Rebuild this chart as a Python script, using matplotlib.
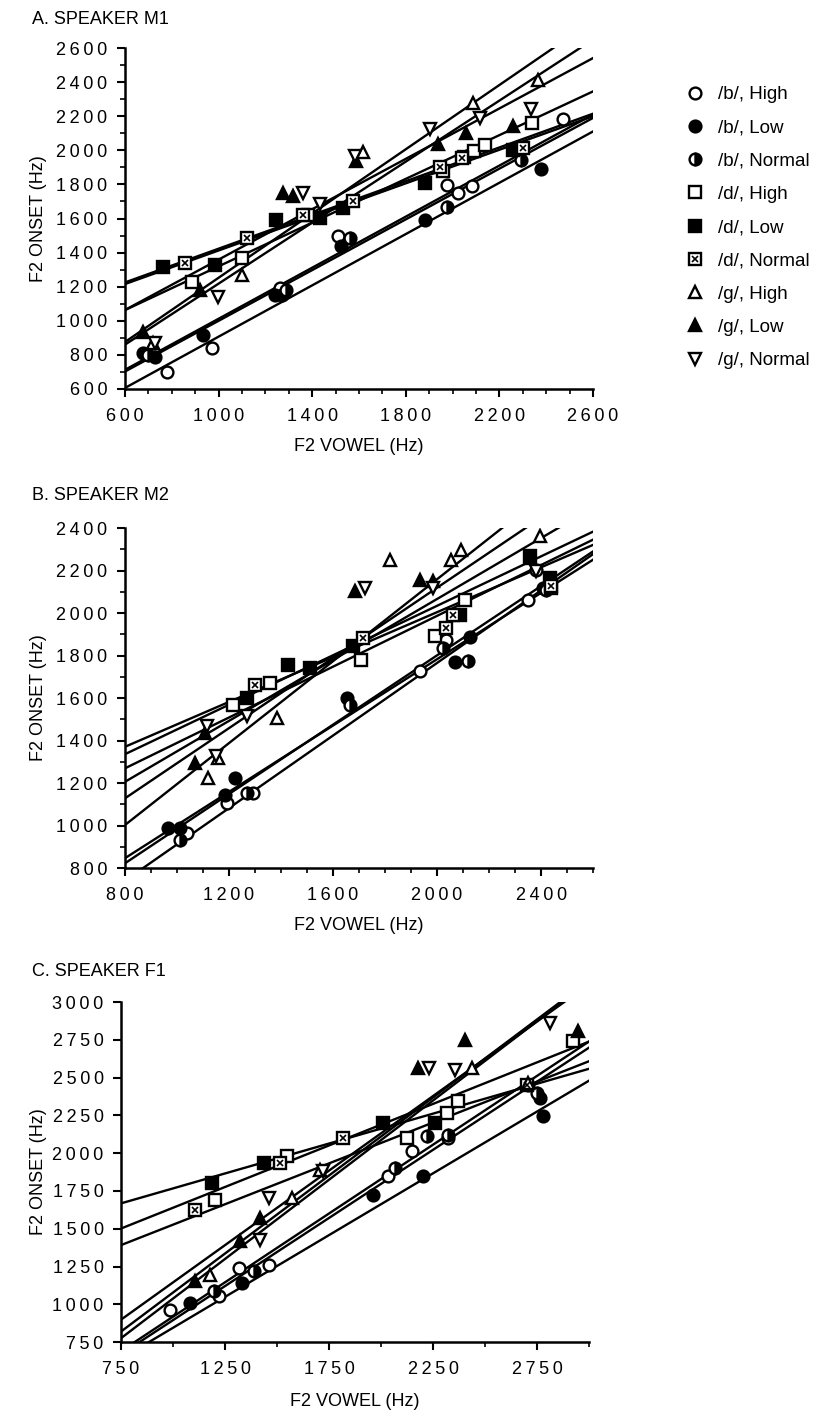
import matplotlib
matplotlib.use("Agg")
import matplotlib.pyplot as plt
import numpy as np
from matplotlib.ticker import FuncFormatter
from matplotlib.legend_handler import HandlerTuple

plt.rcParams['font.family'] = ['Liberation Sans', 'DejaVu Sans']

# category order used everywhere below
cats = ['/b/, High', '/b/, Low', '/b/, Normal',
        '/d/, High', '/d/, Low', '/d/, Normal',
        '/g/, High', '/g/, Low', '/g/, Normal']

# ---- Speaker M1 : (F2 vowel, F2 onset) per category
m1_b_high = ([778, 970, 1262, 1511, 1974, 2024, 2081, 2472], [702, 839, 1191, 1498, 1798, 1749, 1788, 2185])
m1_b_low = ([678, 728, 935, 1240, 1272, 1525, 1881, 2379], [809, 790, 917, 1152, 1152, 1440, 1592, 1890])
m1_b_norm = ([700, 1290, 1561, 1974, 2294], [800, 1180, 1485, 1667, 1944])
m1_d_high = ([885, 1098, 1380, 1960, 2050, 2090, 2140, 2340], [1230, 1370, 1620, 1880, 1960, 1995, 2030, 2160])
m1_d_low = ([764, 984, 1247, 1432, 1532, 1881, 2258], [1318, 1328, 1592, 1602, 1660, 1807, 2003])
m1_d_norm = ([856, 1120, 1361, 1575, 1945, 2038, 2300], [1338, 1485, 1621, 1700, 1905, 1954, 2013])
m1_g_high = ([720, 1100, 1618, 2087, 2365], [868, 1269, 1993, 2277, 2414])
m1_g_low = ([678, 920, 1276, 1318, 1589, 1938, 2059, 2258], [936, 1181, 1752, 1730, 1938, 2036, 2101, 2140])
m1_g_norm = ([728, 999, 1361, 1432, 1582, 1902, 2116, 2336], [868, 1142, 1752, 1683, 1968, 2124, 2190, 2242])
m1_slope = [0.7525, 0.744, 0.749, 0.6415, 0.4925, 0.495, 0.895, 0.9425, 0.739]
m1_icept = [154.5, 256, 263, 678, 920, 928, 323, 310, 620]

# ---- Speaker M2
m2_b_high = ([1037, 1191, 1293, 1934, 2036, 2350, 2382], [965, 1106, 1153, 1725, 1875, 2063, 2204])
m2_b_low = ([967, 1011, 1184, 1223, 1652, 2068, 2126, 2408], [988, 988, 1145, 1224, 1600, 1769, 1885, 2118])
m2_b_norm = ([1011, 1268, 1665, 2023, 2119, 2420], [933, 1153, 1569, 1835, 1776, 2110])
m2_d_high = ([1216, 1357, 1709, 1991, 2107, 2440], [1569, 1671, 1780, 1893, 2063, 2118])
m2_d_low = ([1268, 1428, 1511, 1677, 2087, 2357, 2433], [1600, 1757, 1741, 1843, 1992, 2267, 2165])
m2_d_norm = ([1300, 1716, 2036, 2062, 2440], [1663, 1882, 1929, 1992, 2125])
m2_g_high = ([1120, 1159, 1383, 1818, 2055, 2094, 2395], [1224, 1318, 1506, 2251, 2251, 2298, 2361])
m2_g_low = ([1069, 1107, 1684, 1934, 1985, 2357], [1294, 1435, 2102, 2157, 2149, 2259])
m2_g_norm = ([1114, 1152, 1268, 1722, 1985, 2382], [1467, 1326, 1514, 2118, 2118, 2196])
m2_slope = [0.854, 0.7806, 0.8156, 0.598, 0.582, 0.528, 0.964, 0.826, 0.717]
m2_icept = [57, 221.6, 169.6, 790.7, 870, 948, 231, 467, 632]

# ---- Speaker F1
f1_b_high = ([987, 1219, 1315, 1459, 2035, 2147, 2323, 2707], [964, 1052, 1240, 1262, 1846, 2012, 2100, 2453])
f1_b_low = ([1083, 1331, 1963, 2203, 2779, 2763], [1008, 1140, 1725, 1846, 2243, 2365])
f1_b_norm = ([1195, 1387, 2067, 2219, 2323, 2747], [1085, 1218, 1901, 2111, 2122, 2398])
f1_d_high = ([1203, 1547, 2123, 2315, 2371, 2923], [1692, 1979, 2100, 2265, 2343, 2740])
f1_d_low = ([1187, 1435, 2011, 2260], [1802, 1935, 2199, 2200])
f1_d_norm = ([1107, 1515, 1819, 2699], [1626, 1935, 2100, 2453])
f1_g_high = ([1179, 1571, 1707, 2435, 2707], [1196, 1703, 1890, 2563, 2464])
f1_g_low = ([1107, 1323, 1419, 2179, 2403, 2947], [1151, 1416, 1571, 2563, 2751, 2806])
f1_g_norm = ([1419, 1459, 1723, 2230, 2355, 2811], [1427, 1703, 1879, 2563, 2552, 2861])
f1_slope = [0.911, 0.818, 0.902, 0.550, 0.396, 0.541, 0.987, 1.033, 1.049]
f1_icept = [7, 26.7, -6.7, 1089, 1371, 986, 158, 45, -11]

# marker style per category
styles = [
    dict(marker='o', mfc='white', fillstyle='full'),
    dict(marker='o', mfc='black', fillstyle='full'),
    dict(marker='o', mfc='black', fillstyle='right', markerfacecoloralt='white'),
    dict(marker='s', mfc='white', fillstyle='full'),
    dict(marker='s', mfc='black', fillstyle='full'),
    dict(marker='s', mfc='white', fillstyle='full'),
    dict(marker='^', mfc='white', fillstyle='full'),
    dict(marker='^', mfc='black', fillstyle='full'),
    dict(marker='v', mfc='white', fillstyle='full'),
]
MS = 8.5
FS = 13

# old typeset look: digits spread apart
spaced = FuncFormatter(lambda v, p: '\u2009'.join(str(int(round(v)))))


def draw_panel(ax, pts, slopes, icepts, xlim, ylim, xmaj, xmin, ymaj, ymin):
    xs = np.array(xlim, dtype=float)
    for s, b in zip(slopes, icepts):
        ax.plot(xs, s * xs + b, color='black', lw=1.7, zorder=2)
    handles = []
    for (x, y), st in zip(pts, styles):
        h, = ax.plot(x, y, ls='none', mec='black', mew=1.7, ms=MS, zorder=3, **st)
        handles.append(h)
    # /d/ Normal gets a cross inside the square
    x, y = pts[5]
    hx, = ax.plot(x, y, ls='none', marker='x', color='black', ms=5, mew=1.2, zorder=4)
    handles[5] = (handles[5], hx)

    ax.set_xlim(*xlim)
    ax.set_ylim(*ylim)
    ax.set_xticks(xmaj)
    ax.set_yticks(ymaj)
    if xmin is not None:
        ax.set_xticks(xmin, minor=True)
    if ymin is not None:
        ax.set_yticks(ymin, minor=True)
    ax.xaxis.set_major_formatter(spaced)
    ax.yaxis.set_major_formatter(spaced)
    for sp in ['top', 'right']:
        ax.spines[sp].set_visible(False)
    for sp in ['left', 'bottom']:
        ax.spines[sp].set_linewidth(1.8)
    ax.tick_params(which='major', direction='out', length=5.5, width=1.5, labelsize=FS)
    ax.tick_params(axis='x', which='major', pad=8)
    ax.tick_params(axis='y', which='major', pad=7)
    ax.tick_params(which='minor', direction='out', length=3.5, width=1.2)
    return handles


fig = plt.figure(figsize=(8.33, 14.13), dpi=100)

axA = fig.add_axes([0.150, 0.7247, 0.562, 0.2413])
handles = draw_panel(axA, [m1_b_high, m1_b_low, m1_b_norm, m1_d_high, m1_d_low, m1_d_norm,
                           m1_g_high, m1_g_low, m1_g_norm],
                     m1_slope, m1_icept, (600, 2600), (600, 2600),
                     np.arange(600, 2601, 400), np.arange(600, 2601, 100),
                     np.arange(600, 2601, 200), np.arange(600, 2601, 100))

axB = fig.add_axes([0.150, 0.3857, 0.562, 0.2406])
draw_panel(axB, [m2_b_high, m2_b_low, m2_b_norm, m2_d_high, m2_d_low, m2_d_norm,
                 m2_g_high, m2_g_low, m2_g_norm],
           m2_slope, m2_icept, (800, 2600), (800, 2400),
           np.arange(800, 2401, 400), np.arange(800, 2601, 100),
           np.arange(800, 2401, 200), np.arange(800, 2401, 100))

axC = fig.add_axes([0.1453, 0.0502, 0.562, 0.2406])
draw_panel(axC, [f1_b_high, f1_b_low, f1_b_norm, f1_d_high, f1_d_low, f1_d_norm,
                 f1_g_high, f1_g_low, f1_g_norm],
           f1_slope, f1_icept, (750, 3000), (750, 3000),
           np.arange(750, 2751, 500), np.arange(750, 3001, 250),
           np.arange(750, 3001, 250), None)

H = 1413.0
for ax, title, ty, ly in [(axA, 'A. SPEAKER M1', 19, 446),
                          (axB, 'B. SPEAKER M2', 496, 925),
                          (axC, 'C. SPEAKER F1', 972, 1401)]:
    fig.text(0.038, 1 - ty / H, title, fontsize=FS, va='center', ha='left')
    pos = ax.get_position()
    fig.text((pos.x0 + pos.x1) / 2, 1 - ly / H, 'F2 VOWEL (Hz)', fontsize=FS,
             ha='center', va='center')
    fig.text(0.046, (pos.y0 + pos.y1) / 2, 'F2 ONSET (Hz)', fontsize=FS,
             rotation=90, ha='center', va='center')

fig.legend(handles, cats, loc='upper left', bbox_to_anchor=(0.803, 0.951),
           frameon=False, fontsize=13.5, labelspacing=0.86, handlelength=1.0,
           handletextpad=0.7, handler_map={tuple: HandlerTuple(ndivide=None, pad=-1.0)})

fig.savefig('out.png', dpi=100)
